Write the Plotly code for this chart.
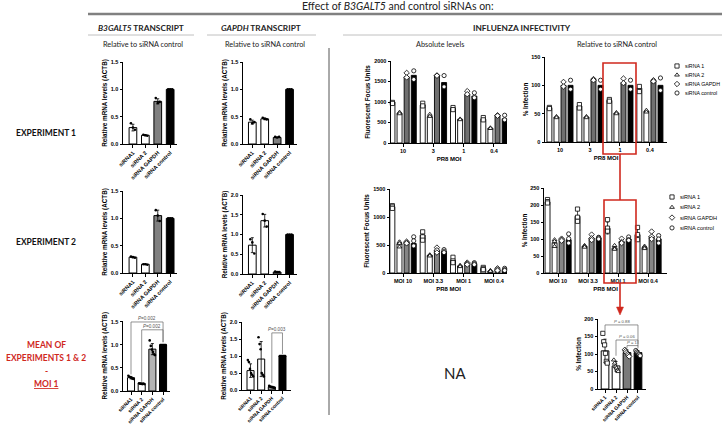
import numpy as np
import plotly.graph_objects as go

W, H = 722, 426
AXF = "Liberation Sans"
TXF = "Lato"
RED = "#d0281e"

# ---------------- data ----------------
series_names = ["siRNA 1", "siRNA 2", "siRNA GAPDH", "siRNA control"]
tx_ticks = ["siRNA1", "siRNA 2", "siRNA GAPDH", "siRNA control"]
inf_mean_ticks = ["siRNA 1", "siRNA 2", "siRNA GAPDH", "siRNA control"]

# transcript levels (relative to siRNA control)
b3_exp1 = [0.30, 0.16, 0.78, 1.00]
b3_exp1_pts = [[0.38, 0.30, 0.26], [0.17, 0.16, 0.15], [0.84, 0.75, 0.77], [1.0, 1.0, 1.0]]
gapdh_exp1 = [0.40, 0.46, 0.12, 1.00]
gapdh_exp1_pts = [[0.45, 0.38, 0.40], [0.48, 0.46, 0.45], [0.13, 0.12, 0.13], [1.0, 1.0, 1.0]]
b3_exp2 = [0.29, 0.16, 1.05, 1.00]
b3_exp2_pts = [[0.30, 0.29, 0.28], [0.16, 0.16, 0.15], [1.15, 1.05, 0.95], [1.0, 1.0, 1.0]]
gapdh_exp2 = [0.73, 1.35, 0.05, 1.00]
gapdh_exp2_pts = [[0.88, 0.80, 0.52], [1.52, 1.35, 1.20], [0.06, 0.05, 0.05], [1.0, 1.0, 1.0]]
b3_mean = [0.29, 0.16, 0.91, 1.00]
b3_mean_pts = [[0.33, 0.31, 0.30, 0.28, 0.27, 0.26], [0.17, 0.16, 0.16, 0.15, 0.16, 0.15],
               [1.10, 0.98, 0.90, 0.85, 0.80, 0.78], [1.0, 1.0, 1.0, 1.0, 1.0, 1.0]]
gapdh_mean = [0.57, 0.91, 0.09, 1.00]
gapdh_mean_pts = [[0.88, 0.82, 0.62, 0.50, 0.45, 0.40], [1.55, 1.35, 1.20, 0.50, 0.45, 0.40],
                  [0.12, 0.10, 0.09, 0.08, 0.07, 0.06], [1.0, 1.0, 1.0, 1.0, 1.0, 1.0]]

# influenza, experiment 1
moi1_ticks = ["10", "3", "1", "0.4"]
abs1_sirna1 = [1000, 925, 845, 580]
abs1_sirna2 = [725, 645, 580, 363]
abs1_gapdh = [1612, 1650, 1185, 670]
abs1_ctrl = [1650, 1475, 1145, 590]
abs1_sirna1_pts = [[990, 965], [970, 905], [865, 815], [620, 565]]
abs1_sirna2_pts = [[750, 715], [700, 650], [585, 570], [370, 355]]
abs1_gapdh_pts = [[1710, 1600], [1650, 1640], [1265, 1190], [677, 665]]
abs1_ctrl_pts = [[1760, 1550], [1645, 1370], [1225, 1105], [677, 565]]

rel1_sirna1 = [60.6, 63.5, 73.5, 95]
rel1_sirna2 = [44, 44, 51, 54]
rel1_gapdh = [100, 110, 105, 108]
rel1_ctrl = [100, 100, 100, 100]
rel1_sirna1_pts = [[61, 59], [66, 60], [75, 72], [98, 89]]
rel1_sirna2_pts = [[45, 43], [45, 43], [52, 50], [56, 53]]
rel1_gapdh_pts = [[106, 98], [111, 109], [112, 104], [109, 107]]
rel1_ctrl_pts = [[109, 93], [109, 93], [109, 93], [113, 91]]

# influenza, experiment 2
moi2_ticks = ["MOI 10", "MOI 3.3", "MOI 1", "MOI 0.4"]
abs2_sirna1 = [1184, 676, 227, 78]
abs2_sirna2 = [526, 317, 126, 36]
abs2_gapdh = [544, 406, 167, 60]
abs2_ctrl = [526, 389, 167, 60]
abs2_sirna1_pts = [[1202, 1180, 1154], [735, 646, 586], [281, 215, 185], [100, 75, 60]]
abs2_sirna2_pts = [[556, 526, 466], [325, 317, 305], [137, 126, 115], [45, 36, 30]]
abs2_gapdh_pts = [[560, 544, 530], [454, 406, 365], [185, 167, 150], [84, 60, 45]]
abs2_ctrl_pts = [[646, 574, 484], [418, 389, 365], [185, 167, 150], [84, 60, 45]]

rel2_sirna1 = [209, 167, 132, 113]
rel2_sirna2 = [88, 78, 74, 75]
rel2_gapdh = [98, 103, 93, 108]
rel2_ctrl = [98, 103, 100, 100]
rel2_sirna1_pts = [[216, 210, 206], [188, 164, 152], [157, 132, 123], [134, 113, 98]]
rel2_sirna2_pts = [[98, 93, 78], [81, 79, 76], [81, 72, 70], [79, 75, 72]]
rel2_gapdh_pts = [[101, 98, 95], [113, 102, 97], [101, 91, 88], [122, 107, 100]]
rel2_ctrl_pts = [[115, 101, 88], [105, 103, 100], [106, 98, 96], [110, 100, 88]]

# influenza, mean of experiments at MOI 1
moi1_mean = [109, 66, 104, 104]
moi1_mean_pts = [[159, 135, 126, 102, 79, 74], [83, 74, 64, 60, 53, 50],
                 [112, 108, 104, 100, 97, 93], [110, 106, 103, 100, 98, 95]]

# ---------------- helpers ----------------
layout = dict(
    width=W, height=H, margin=dict(l=0, r=0, t=0, b=0),
    paper_bgcolor="white", plot_bgcolor="rgba(0,0,0,0)",
    showlegend=False, barmode="overlay",
    font=dict(family=AXF, color="black"),
    shapes=[], annotations=[],
)
traces = []
axn = [0]
SYMS = ["square", "triangle-up", "diamond", "circle"]


def P(x):
    return x / W


def Q(y):
    return 1 - y / H


def make_axes(x0, x1, ytop, ybot, xr, yr, xtv, xtt, ytv, ytf, ytitle, xtitle=None,
              tickangle=0, xtick_size=5.5, ytick_size=5.5, ytitle_size=6.3):
    axn[0] += 1
    i = axn[0]
    s = "" if i == 1 else str(i)
    xa = dict(domain=[P(x0), P(x1)], range=xr, anchor="y" + s,
              showline=True, linecolor="black", linewidth=1, ticks="outside",
              ticklen=2.5, tickwidth=1, tickcolor="black",
              tickmode="array", tickvals=xtv, ticktext=xtt, tickangle=tickangle,
              tickfont=dict(family=AXF, size=xtick_size, weight="bold"),
              showgrid=False, zeroline=False, fixedrange=True, automargin=False)
    if xtitle:
        xa["title"] = dict(text=xtitle, font=dict(family=AXF, size=6, weight="bold"), standoff=3)
    ya = dict(domain=[Q(ybot), Q(ytop)], range=yr, anchor="x" + s,
              showline=True, linecolor="black", linewidth=1, ticks="outside",
              ticklen=2.5, tickwidth=1, tickcolor="black",
              tickmode="array", tickvals=ytv, tickformat=ytf,
              tickfont=dict(family=AXF, size=ytick_size, weight="bold"),
              title=dict(text=ytitle, font=dict(family=AXF, size=ytitle_size, weight="bold"), standoff=2),
              showgrid=False, zeroline=False, fixedrange=True, automargin=False)
    layout["xaxis" + s] = xa
    layout["yaxis" + s] = ya
    return "x" + s, "y" + s


def jitter(n, spread):
    if n == 1:
        return [0.0]
    return list(np.linspace(-spread, spread, n))


def tx_panel(dom, xr, yr, ytv, means, pts, colors, ticks, spread, bw=0.62, xts=5.5):
    xa, ya = make_axes(dom[0], dom[1], dom[2], dom[3], xr, yr, [0, 1, 2, 3], ticks, ytv, ".1f",
                       "Relative mRNA levels (ACTB)", tickangle=-45, xtick_size=xts)
    idx = list(range(len(means)))
    err = [float(np.std(p, ddof=1)) for p in pts]
    traces.append(go.Bar(x=idx, y=means, width=bw, xaxis=xa, yaxis=ya,
                         marker=dict(color=colors, line=dict(color="black", width=1)),
                         error_y=dict(type="data", array=err, color="black", thickness=0.8, width=1.5)))
    xs, ys = [], []
    for i, p in enumerate(pts):
        for j, v in zip(jitter(len(p), spread), p):
            xs.append(i + j)
            ys.append(v)
    traces.append(go.Scatter(x=xs, y=ys, mode="markers", xaxis=xa, yaxis=ya, cliponaxis=False,
                             marker=dict(color="black", size=2.6)))
    return xa, ya


def inf_panel(dom, xr, yr, ytv, ytitle, ticks, means_list, pts_list, colors, show_err, sp=0.235, bw=0.165):
    xa, ya = make_axes(dom[0], dom[1], dom[2], dom[3], xr, yr, [0, 1, 2, 3], ticks, ytv, None,
                       ytitle, xtitle="PR8 MOI")
    for s, (m, pts) in enumerate(zip(means_list, pts_list)):
        xs = [g + (s - 1.5) * sp for g in range(len(m))]
        e = dict(type="data", array=[float(np.std(p, ddof=1)) for p in pts], color="black",
                 thickness=0.7, width=1.2, visible=show_err)
        traces.append(go.Bar(x=xs, y=m, width=bw, xaxis=xa, yaxis=ya, error_y=e,
                             marker=dict(color=colors[s], line=dict(color="black", width=0.9))))
    for s, (m, pts) in enumerate(zip(means_list, pts_list)):
        px_, py_ = [], []
        for g, p in enumerate(pts):
            for v in p:
                px_.append(g + (s - 1.5) * sp)
                py_.append(v)
        traces.append(go.Scatter(x=px_, y=py_, mode="markers", xaxis=xa, yaxis=ya, cliponaxis=False,
                                 marker=dict(symbol=SYMS[s], color="white", size=4.2,
                                             line=dict(color="black", width=0.8))))
    return xa, ya


def bracket(xa, ya, x0, x1, y, leg0, leg1, text, size=4.6):
    layout["shapes"].append(dict(type="path", xref=xa, yref=ya,
                                 path=f"M {x0},{leg0} L {x0},{y} L {x1},{y} L {x1},{leg1}",
                                 line=dict(color="#666666", width=0.7)))
    layout["annotations"].append(dict(xref=xa, yref=ya, x=(x0 + x1) / 2, y=y, text=text,
                                      showarrow=False, yanchor="bottom", yshift=-1,
                                      font=dict(family=AXF, size=size, color="#555555")))


def txt(x, y, text, size, color="black", family=TXF, xanchor="center"):
    layout["annotations"].append(dict(xref="paper", yref="paper", x=P(x), y=Q(y), text=text,
                                      showarrow=False, xanchor=xanchor, yanchor="middle",
                                      font=dict(family=family, size=size, color=color)))


def pline(x0, y0, x1, y1, color, width):
    layout["shapes"].append(dict(type="line", xref="paper", yref="paper",
                                 x0=P(x0), y0=Q(y0), x1=P(x1), y1=Q(y1),
                                 line=dict(color=color, width=width)))


# ---------------- transcript panels ----------------
c_exp = ["white", "white", "#808080", "black"]
tx_panel((123, 177, 62, 144), [-0.8, 3.55], [0, 1.5], [0, 0.5, 1.0, 1.5], b3_exp1, b3_exp1_pts, c_exp, tx_ticks, 0.16)
tx_panel((243, 297, 62, 144), [-0.75, 3.6], [0, 1.5], [0, 0.5, 1.0, 1.5], gapdh_exp1, gapdh_exp1_pts, c_exp, tx_ticks, 0.16)
tx_panel((123, 177, 191, 273), [-0.8, 3.55], [0, 1.5], [0, 0.5, 1.0, 1.5], b3_exp2, b3_exp2_pts, c_exp, tx_ticks, 0.16)
tx_panel((243, 297, 195, 274), [-0.75, 3.6], [0, 2.0], [0, 0.5, 1.0, 1.5, 2.0], gapdh_exp2, gapdh_exp2_pts, c_exp, tx_ticks, 0.16)
xa5, ya5 = tx_panel((123, 170, 320.6, 391), [-0.75, 3.65], [0, 1.53], [0, 0.5, 1.0, 1.5], b3_mean, b3_mean_pts,
                    ["white", "white", "#b4b4b4", "black"], tx_ticks, 0.25, bw=0.66, xts=5)
bracket(xa5, ya5, 0, 3, 1.5, 0.36, 1.06, "<i>P</i>=0.002")
bracket(xa5, ya5, 1, 3, 1.33, 0.2, 1.06, "<i>P</i>=0.002")
xa6, ya6 = tx_panel((242, 291, 322, 390), [-0.8, 3.8], [0, 2.0], [0, 0.5, 1.0, 1.5, 2.0], gapdh_mean, gapdh_mean_pts,
                    ["white", "white", "#9a9a9a", "black"], tx_ticks, 0.25, bw=0.66, xts=5)
bracket(xa6, ya6, 2, 3, 1.68, 0.2, 1.06, "<i>P</i>=0.003")

# ---------------- influenza panels ----------------
c_inf = ["white", "white", "#707070", "black"]
inf_panel((391, 507, 61, 143), [-0.4, 3.43], [0, 2000], [0, 500, 1000, 1500, 2000], "Fluorescent Focus Units",
          moi1_ticks, [abs1_sirna1, abs1_sirna2, abs1_gapdh, abs1_ctrl],
          [abs1_sirna1_pts, abs1_sirna2_pts, abs1_gapdh_pts, abs1_ctrl_pts], c_inf, False)
inf_panel((545, 667, 57, 142), [-0.5, 3.57], [0, 150], [0, 50, 100, 150], "% Infection",
          moi1_ticks, [rel1_sirna1, rel1_sirna2, rel1_gapdh, rel1_ctrl],
          [rel1_sirna1_pts, rel1_sirna2_pts, rel1_gapdh_pts, rel1_ctrl_pts], c_inf, False)
c_inf2 = ["white", "white", "#858585", "black"]
inf_panel((390, 507, 189, 273), [-0.43, 3.43], [0, 1500], [0, 500, 1000, 1500], "Fluorescent Focus Units",
          moi2_ticks, [abs2_sirna1, abs2_sirna2, abs2_gapdh, abs2_ctrl],
          [abs2_sirna1_pts, abs2_sirna2_pts, abs2_gapdh_pts, abs2_ctrl_pts], c_inf2, True)
inf_panel((544, 667, 188, 273), [-0.47, 3.63], [0, 250], [0, 50, 100, 150, 200, 250], "% Infection",
          moi2_ticks, [rel2_sirna1, rel2_sirna2, rel2_gapdh, rel2_ctrl],
          [rel2_sirna1_pts, rel2_sirna2_pts, rel2_gapdh_pts, rel2_ctrl_pts], c_inf2, True)

# bottom: mean MOI 1
xa11, ya11 = make_axes(598, 646, 319, 389, [-0.64, 3.73], [0, 200], [0, 1, 2, 3], inf_mean_ticks,
                       [0, 50, 100, 150, 200], None, "% Infection", tickangle=-45, xtick_size=5)
traces.append(go.Bar(x=[0, 1, 2, 3], y=moi1_mean, width=0.7, xaxis=xa11, yaxis=ya11,
                     marker=dict(color=["white", "white", "#7a7a7a", "black"], line=dict(color="black", width=1)),
                     error_y=dict(type="data", array=[float(np.std(p, ddof=1)) for p in moi1_mean_pts],
                                  color="black", thickness=0.8, width=1.5)))
for s, p in enumerate(moi1_mean_pts):
    traces.append(go.Scatter(x=[s + j for j in jitter(len(p), 0.2)], y=p, mode="markers",
                             xaxis=xa11, yaxis=ya11, cliponaxis=False,
                             marker=dict(symbol=SYMS[s], color="white", size=4.2,
                                         line=dict(color="black", width=0.8))))
bracket(xa11, ya11, 0, 3, 183, 165, 128, "<i>P</i> = 0.88", size=4.2)
bracket(xa11, ya11, 1, 3, 140, 95, 122, "<i>P</i> = 0.06", size=4.2)
bracket(xa11, ya11, 2, 3, 124, 116, 116, "<i>P</i> = 1", size=4.2)

# ---------------- legends (overlay pixel-space axes) ----------------
axn[0] += 1
sL = str(axn[0])
layout["xaxis" + sL] = dict(domain=[0, 1], range=[0, W], visible=False, fixedrange=True, anchor="y" + sL)
layout["yaxis" + sL] = dict(domain=[0, 1], range=[H, 0], visible=False, fixedrange=True, anchor="x" + sL)
for (lx, ly, dy, fs) in [(677, 66, 9, 5.3), (672, 197, 10.3, 5.6)]:
    for k, name in enumerate(series_names):
        traces.append(go.Scatter(x=[lx], y=[ly + k * dy], mode="markers", xaxis="x" + sL, yaxis="y" + sL,
                                 cliponaxis=False,
                                 marker=dict(symbol=SYMS[k], color="white", size=4.2,
                                             line=dict(color="black", width=0.8))))
        layout["annotations"].append(dict(xref="x" + sL, yref="y" + sL, x=lx + 6, y=ly + k * dy, text=name,
                                          showarrow=False, xanchor="left", yanchor="middle",
                                          font=dict(family=AXF, size=fs, color="black")))

# ---------------- headings & decorations ----------------
txt(398, 6, "Effect of <i>B3GALT5</i> and control siRNAs on:", 10.5, "#222222")
pline(88, 14, 722, 14, "#808080", 2.5)
txt(141, 28, "<b><i>B3GALT5</i> TRANSCRIPT</b>", 8.3, "#222222")
txt(261, 28, "<b><i>GAPDH</i> TRANSCRIPT</b>", 8.3, "#222222")
txt(522, 28, "<b>INFLUENZA INFECTIVITY</b>", 8.3, "#222222")
pline(88, 35, 194, 35, "#b0b0b0", 0.8)
pline(207, 35, 316, 35, "#b0b0b0", 0.8)
pline(343, 35, 722, 35, "#b0b0b0", 0.8)
txt(143, 44, "Relative to siRNA control", 7.3, "#222222")
txt(265, 44, "Relative to siRNA control", 7.3, "#222222")
txt(440, 44, "Absolute levels", 7.3, "#222222")
txt(617, 44, "Relative to siRNA control", 7.3, "#222222")
pline(329, 48, 329, 415, "#555555", 1)

txt(46, 133, "<b>EXPERIMENT 1</b>", 8.5, "#111111")
txt(46, 242, "<b>EXPERIMENT 2</b>", 8.5, "#111111")
txt(46, 345, "<b>MEAN OF</b>", 8.5, RED)
txt(46, 358, "<b>EXPERIMENTS 1 &amp; 2</b>", 8.5, RED)
txt(46, 371, "<b>-</b>", 8.5, RED)
txt(46, 384, "<b><u>MOI 1</u></b>", 8.5, RED)
txt(455, 373, "NA", 15, "#222222")

# red boxes and arrow
layout["shapes"].append(dict(type="rect", xref="paper", yref="paper", x0=P(603), x1=P(636), y0=Q(154), y1=Q(63),
                             line=dict(color=RED, width=1.6)))
layout["shapes"].append(dict(type="rect", xref="paper", yref="paper", x0=P(604), x1=P(636), y0=Q(283), y1=Q(200),
                             line=dict(color=RED, width=1.6)))
pline(620, 154, 620, 200, RED, 1.6)
pline(620, 283, 620, 308, RED, 1.6)
layout["shapes"].append(dict(type="path", xref="paper", yref="paper",
                             path=f"M {P(616.5)},{Q(307)} L {P(623.5)},{Q(307)} L {P(620)},{Q(315)} Z",
                             fillcolor=RED, line=dict(color=RED, width=0.5)))

fig = go.Figure(data=traces, layout=layout)
fig.write_html("out.html",
               config={"displayModeBar": False, "staticPlot": True},
               post_script="document.body.style.margin='0';document.body.style.padding='0';")
